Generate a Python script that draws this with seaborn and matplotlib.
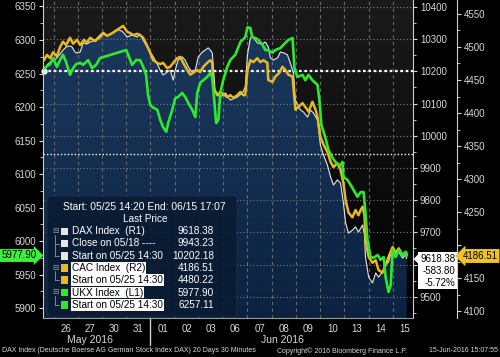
import numpy as np
import seaborn as sns
import matplotlib.pyplot as plt
import matplotlib.transforms as mtransforms
from matplotlib.colors import LinearSegmentedColormap
from matplotlib.patches import FancyBboxPatch, Rectangle, Polygon

# time in trading days (0 = open of 26 May, the 25th is a partial day)
ukx_t = [-0.39, -0.27, -0.14, -0.02, 0.14, 0.27, 0.39, 0.52, 0.68, 0.81,
         0.93, 1.10, 1.22, 1.43, 1.59, 1.76, 1.92, 3.00, 3.08, 3.24,
         3.41, 3.57, 3.70, 3.82, 3.90, 3.99, 4.11, 4.28, 4.40, 4.52,
         4.65, 4.73, 4.90, 5.02, 5.14, 5.31, 5.43, 5.56, 5.72, 5.85,
         5.93, 6.05, 6.18, 6.34, 6.47, 6.55, 6.63, 6.71, 6.80, 6.88,
         7.00, 7.17, 7.29, 7.50, 7.71, 7.91, 8.00, 8.12, 8.20, 8.33,
         8.45, 8.62, 8.74, 8.86, 9.03, 9.15, 9.36, 9.57, 9.69, 9.86,
         9.94, 10.06, 10.27, 10.39, 10.52, 10.68, 10.89, 10.97, 11.05, 11.22,
         11.34, 11.51, 11.67, 11.84, 11.92, 11.96, 12.13, 12.25, 12.38, 12.54,
         12.67, 12.79, 12.87, 12.95, 13.08, 13.20, 13.37, 13.49, 13.62, 13.70,
         13.82, 13.91, 13.99, 14.11, 14.24, 14.40, 14.53, 14.57]
ukx = [6257, 6261, 6264, 6273, 6260, 6270, 6278, 6267, 6248, 6258,
       6264, 6266, 6263, 6270, 6258, 6263, 6273, 6285, 6278, 6263,
       6270, 6270, 6260, 6248, 6218, 6203, 6199, 6196, 6181, 6170,
       6163, 6176, 6196, 6213, 6215, 6221, 6215, 6206, 6196, 6185,
       6221, 6236, 6240, 6245, 6251, 6243, 6210, 6176, 6181, 6221,
       6240, 6260, 6270, 6278, 6297, 6304, 6319, 6318, 6304, 6303,
       6300, 6293, 6285, 6285, 6281, 6285, 6288, 6296, 6300, 6303,
       6258, 6245, 6248, 6240, 6248, 6240, 6233, 6210, 6173, 6154,
       6136, 6124, 6116, 6113, 6118, 6096, 6091, 6084, 6076, 6066,
       6073, 6073, 6042, 6002, 5976, 5975, 5979, 5972, 5976, 5946,
       5924, 5934, 5987, 5976, 5987, 5978, 5984, 5977.90]

cac_t = [-0.39, -0.27, -0.14, -0.02, 0.14, 0.27, 0.39, 0.52, 0.68, 0.81,
         0.97, 1.10, 1.26, 1.38, 1.51, 1.71, 1.92, 2.05, 2.21, 2.42,
         2.62, 2.75, 2.87, 3.04, 3.16, 3.29, 3.45, 3.57, 3.70, 3.86,
         3.99, 4.11, 4.28, 4.40, 4.52, 4.69, 4.81, 4.94, 5.10, 5.23,
         5.35, 5.52, 5.64, 5.76, 5.93, 6.05, 6.18, 6.34, 6.47, 6.55,
         6.59, 6.76, 6.88, 7.00, 7.17, 7.29, 7.42, 7.58, 7.71, 7.83,
         7.91, 8.00, 8.12, 8.24, 8.41, 8.53, 8.66, 8.82, 8.86, 9.03,
         9.15, 9.32, 9.44, 9.57, 9.69, 9.86, 9.98, 10.10, 10.27, 10.39,
         10.52, 10.68, 10.81, 10.89, 11.01, 11.14, 11.30, 11.43, 11.55, 11.71,
         11.84, 11.96, 12.05, 12.17, 12.33, 12.46, 12.58, 12.67, 12.75, 12.83,
         12.87, 13.00, 13.16, 13.29, 13.41, 13.57, 13.70, 13.82, 13.99, 14.11,
         14.24, 14.40, 14.53, 14.57]
cac = [4480, 4488, 4483, 4492, 4486, 4500, 4508, 4503, 4514, 4505,
       4511, 4503, 4511, 4506, 4514, 4509, 4515, 4521, 4517, 4521,
       4526, 4529, 4532, 4523, 4521, 4518, 4520, 4518, 4514, 4502,
       4491, 4480, 4476, 4474, 4476, 4468, 4470, 4476, 4483, 4485,
       4476, 4465, 4458, 4461, 4465, 4462, 4470, 4476, 4480, 4476,
       4439, 4427, 4432, 4429, 4424, 4427, 4423, 4427, 4432, 4427,
       4427, 4465, 4480, 4477, 4483, 4477, 4480, 4476, 4450, 4447,
       4455, 4461, 4470, 4465, 4458, 4455, 4405, 4409, 4415, 4409,
       4402, 4417, 4405, 4394, 4364, 4352, 4341, 4326, 4318, 4324,
       4314, 4294, 4268, 4249, 4242, 4253, 4245, 4253, 4258, 4245,
       4208, 4182, 4173, 4177, 4162, 4158, 4170, 4182, 4197, 4188,
       4195, 4185, 4189, 4186.51]

dax_t = [-0.39, -0.27, -0.14, 0.02, 0.14, 0.27, 0.39, 0.52, 0.68, 0.76,
         0.89, 0.97, 1.10, 1.22, 1.38, 1.51, 1.71, 1.92, 2.05, 2.21,
         2.46, 2.67, 2.83, 3.04, 3.24, 3.45, 3.57, 3.70, 3.86, 4.07,
         4.24, 4.40, 4.52, 4.69, 4.81, 4.94, 5.02, 5.14, 5.31, 5.43,
         5.56, 5.72, 5.85, 5.97, 6.14, 6.26, 6.38, 6.47, 6.55, 6.67,
         6.88, 7.09, 7.29, 7.58, 7.79, 7.91, 8.00, 8.12, 8.24, 8.41,
         8.57, 8.74, 8.86, 8.95, 9.07, 9.24, 9.36, 9.52, 9.65, 9.77,
         9.90, 9.98, 10.19, 10.31, 10.48, 10.60, 10.72, 10.89, 11.01, 11.14,
         11.30, 11.43, 11.55, 11.71, 11.84, 11.96, 12.05, 12.17, 12.33, 12.46,
         12.58, 12.75, 12.83, 12.87, 13.00, 13.16, 13.29, 13.41, 13.57, 13.70,
         13.82, 13.99, 14.11, 14.24, 14.40, 14.53, 14.57]
dax = [10202, 10220, 10229, 10235, 10242, 10254, 10266, 10276, 10279, 10276,
       10260, 10257, 10260, 10288, 10285, 10291, 10297, 10313, 10322, 10310,
       10319, 10329, 10325, 10307, 10313, 10307, 10316, 10297, 10276, 10251,
       10229, 10204, 10189, 10198, 10204, 10173, 10204, 10235, 10245, 10235,
       10214, 10198, 10204, 10245, 10260, 10266, 10273, 10266, 10257, 10136,
       10120, 10133, 10111, 10120, 10133, 10152, 10251, 10304, 10307, 10288,
       10285, 10291, 10276, 10242, 10235, 10242, 10260, 10257, 10251, 10226,
       10195, 10111, 10080, 10074, 10058, 10080, 10071, 10049, 9971, 9940,
       9909, 9872, 9847, 9863, 9853, 9791, 9729, 9698, 9707, 9717,
       9701, 9723, 9692, 9623, 9561, 9543, 9574, 9561, 9577, 9599,
       9608, 9651, 9623, 9639, 9620, 9630, 9618.38]

day_labels = ["26", "27", "30", "31", "01", "02", "03", "06", "07", "08",
              "09", "10", "13", "14", "15"]
dax_close_0518 = 9943.23
dax_start = 10202.18

legend_labels = ["DAX Index  (R1)", "Close on 05/18 ----", "Start on 05/25 14:30",
                 "CAC Index  (R2)", "Start on 05/25 14:30",
                 "UKX Index  (L1)", "Start on 05/25 14:30"]
legend_values = ["9618.38", "9943.23", "10202.18", "4186.51", "4480.22",
                 "5977.90", "6257.11"]
dax_tag = ["9618.38", "-583.80", "-5.72%"]

WHITE = "#e6e6e6"
YELLOW = "#e9b923"
GREEN = "#2ee82e"
TXT = "#d8d8d8"
legend_colors = [WHITE, WHITE, WHITE, YELLOW, YELLOW, GREEN, GREEN]

sns.set_style("dark", {"axes.facecolor": "black", "figure.facecolor": "black"})
plt.rcParams['font.family'] = ['Liberation Sans', 'DejaVu Sans']
plt.rcParams['font.size'] = 7

fig = plt.figure(figsize=(5, 3.57), dpi=100, facecolor="black")
ax = fig.add_axes([0.086, 0.1092, 0.74, 0.8908])
ax_dax = ax.twinx()
ax_cac = ax.twinx()
ax_dax.set_zorder(1)
ax_cac.set_zorder(2)
ax.set_zorder(3)
ax.patch.set_visible(False)
ax_cac.patch.set_visible(False)

xmin, xmax = -0.434, 14.83

# background
bg = LinearSegmentedColormap.from_list("bg", ["#000000", "#1b1b1b"])
ax_dax.imshow(np.linspace(0, 1, 256).reshape(-1, 1), cmap=bg, aspect="auto",
              extent=[0, 1, 0, 1], origin="lower", transform=ax_dax.transAxes, zorder=0)

# DAX area fill with gradient
fill = ax_dax.fill_between(dax_t, dax, 9300, facecolor="none", linewidth=0)
fc = LinearSegmentedColormap.from_list("fc", ["#0c2240", "#1c3b60"])
im = ax_dax.imshow(np.linspace(0, 1, 256).reshape(-1, 1), cmap=fc, aspect="auto",
                   extent=[xmin, xmax, 9434, 10421.7], origin="lower", zorder=1)
im.set_clip_path(fill.get_paths()[0], transform=ax_dax.transData)

# grid
for v in range(9500, 10401, 100):
    ax_dax.axhline(v, color="#7a7a7a", ls=(0, (1, 2)), lw=0.8, zorder=2)
for k in range(15):
    ax_dax.axvline(k, color="#6a6a6a", ls=(0, (3, 3)), lw=0.8, zorder=2)
ax_dax.axhline(dax_start, color="white", ls=(0, (1.2, 1.2)), lw=1.6, zorder=3)
ax_dax.axhline(dax_close_0518, color="white", ls=(0, (1, 1.5)), lw=1.0, zorder=3)

sns.lineplot(x=dax_t, y=dax, ax=ax_dax, color=WHITE, linewidth=0.8, zorder=4)
ax_dax.plot(dax_t[0], dax[0], "o", color="white", ms=3.5, clip_on=False, zorder=5)
sns.lineplot(x=cac_t, y=cac, ax=ax_cac, color=YELLOW, linewidth=1.8)
sns.lineplot(x=ukx_t, y=ukx, ax=ax, color=GREEN, linewidth=1.9)

ax.set_xlim(xmin, xmax)
ax.set_ylim(5885.1, 6359.7)
ax_dax.set_ylim(9434.0, 10421.7)
ax_cac.set_ylim(4089.4, 4571.2)

ax.set_yticks(np.arange(5900, 6351, 50))
ax.set_yticks(np.arange(5900, 6351, 25), minor=True)
dax_ticks = np.arange(9500, 10401, 100)
# 9600 label sits under the last-value tag
ax_dax.set_yticks(dax_ticks, ["" if v == 9600 else str(v) for v in dax_ticks])
ax_dax.set_yticks(np.arange(9450, 10401, 50), minor=True)
cac_ticks = np.arange(4100, 4551, 50)
ax_cac.set_yticks(cac_ticks, ["" if v == 4200 else str(v) for v in cac_ticks])
ax_cac.set_yticks(np.arange(4100, 4551, 25), minor=True)
ax.set_xticks(np.arange(15) + 0.5, day_labels)
for a in (ax, ax_dax, ax_cac):
    a.set_xlabel("")
    a.set_ylabel("")
    a.grid(False)
    for s in a.spines.values():
        s.set_visible(False)
    a.tick_params(axis="y", which="major", colors=TXT, labelsize=7, length=3,
                  width=0.8, direction="out", pad=2)
    a.tick_params(axis="y", which="minor", colors=TXT, length=2, width=0.6)
ax.tick_params(axis="x", length=0, pad=4, labelsize=7, colors=TXT)
ax.spines["left"].set_visible(True)
ax.spines["left"].set_color("#cfcfcf")
ax.spines["bottom"].set_visible(True)
ax.spines["bottom"].set_color("#9a9a9a")
ax_dax.spines["right"].set_visible(True)
ax_dax.spines["right"].set_color("#cfcfcf")
ax_cac.spines["right"].set_visible(True)
ax_cac.spines["right"].set_color("#cfcfcf")
ax_cac.spines["right"].set_position(("outward", 31.7))

# month labels and separator
bt = mtransforms.blended_transform_factory(ax.transData, ax.transAxes)
ax.text(1.5, -0.068, "May 2016", transform=bt, ha="center", va="center", color=TXT, size=7.5)
ax.text(9.45, -0.068, "Jun 2016", transform=bt, ha="center", va="center", color=TXT, size=7.5)
ax.plot([4, 4], [0, -0.085], transform=bt, color="#d0d0d0", lw=1, clip_on=False)

# overlay in pixel units for legend box, tags and footer
ov = fig.add_axes([0, 0, 1, 1], zorder=10)
ov.set_xlim(0, 500)
ov.set_ylim(357, 0)
ov.axis("off")
ov.patch.set_visible(False)

ov.add_patch(FancyBboxPatch((47, 196), 190, 121, boxstyle="round,pad=0,rounding_size=3",
                            fc="#0a1c33", ec="#1d3350", lw=0.6, alpha=0.93))
ov.text(144, 207, "Start: 05/25 14:20 End: 06/15 17:07", ha="center", va="center",
        color="white", size=7.4)
ov.text(145, 219, "Last Price", ha="center", va="center", color="white", size=7.2)
rows_y = [231.5, 243.5, 256, 268, 280, 292.5, 305]
for i, (lab, val, col) in enumerate(zip(legend_labels, legend_values, legend_colors)):
    y = rows_y[i]
    ov.add_patch(Rectangle((61, y - 3.6), 7.2, 7.2, fc=col, ec="none"))
    if i >= 3:
        ov.text(72, y, lab, ha="left", va="center", color="black", size=7.2,
                bbox=dict(fc="white", ec="none", pad=0.6))
    else:
        ov.text(72, y, lab, ha="left", va="center", color="white", size=7.2)
    ov.text(214, y, val, ha="right", va="center", color="white", size=7.2)
for top, subs in [(0, [1, 2]), (3, [4]), (5, [6])]:
    ov.text(55, rows_y[top], "⊟", ha="center", va="center", color="#9a9a9a", size=5.5)
    ov.plot([55, 55], [rows_y[top] + 3, rows_y[subs[-1]]], color="#9a9a9a", lw=0.6)
    for s in subs:
        ov.plot([55, 59], [rows_y[s], rows_y[s]], color="#9a9a9a", lw=0.6)

# last value tags
ov.text(19, 255.5, "5977.90", ha="center", va="center", color="black", size=7,
        bbox=dict(boxstyle="rarrow,pad=0.15", fc="#3cf03c", ec="none"))
ov.add_patch(Rectangle((418, 252), 39, 37, fc="white", ec="none"))
ov.add_patch(Polygon([[413.5, 259], [418.5, 254], [418.5, 264]], closed=True,
                     fc="white", ec="none"))
for j, s in enumerate(dax_tag):
    ov.text(455.5, 259 + 12 * j, s, ha="right", va="center", color="black", size=7)
ov.text(480, 256, "4186.51", ha="center", va="center", color="black", size=7,
        bbox=dict(boxstyle="larrow,pad=0.2", fc="#f0c22a", ec="none"))

# footer
ov.text(2, 351, "DAX Index (Deutsche Boerse AG German Stock Index DAX) 20 Days 30 Minutes",
        ha="left", va="center", color=TXT, size=5)
ov.text(277, 351, "Copyright\u00a9 2016 Bloomberg Finance L.P.", ha="left", va="center",
        color=TXT, size=5)
ov.text(498, 351, "15-Jun-2016 15:07:55", ha="right", va="center", color=TXT, size=5)

fig.savefig("out.png", dpi=100, facecolor="black")
